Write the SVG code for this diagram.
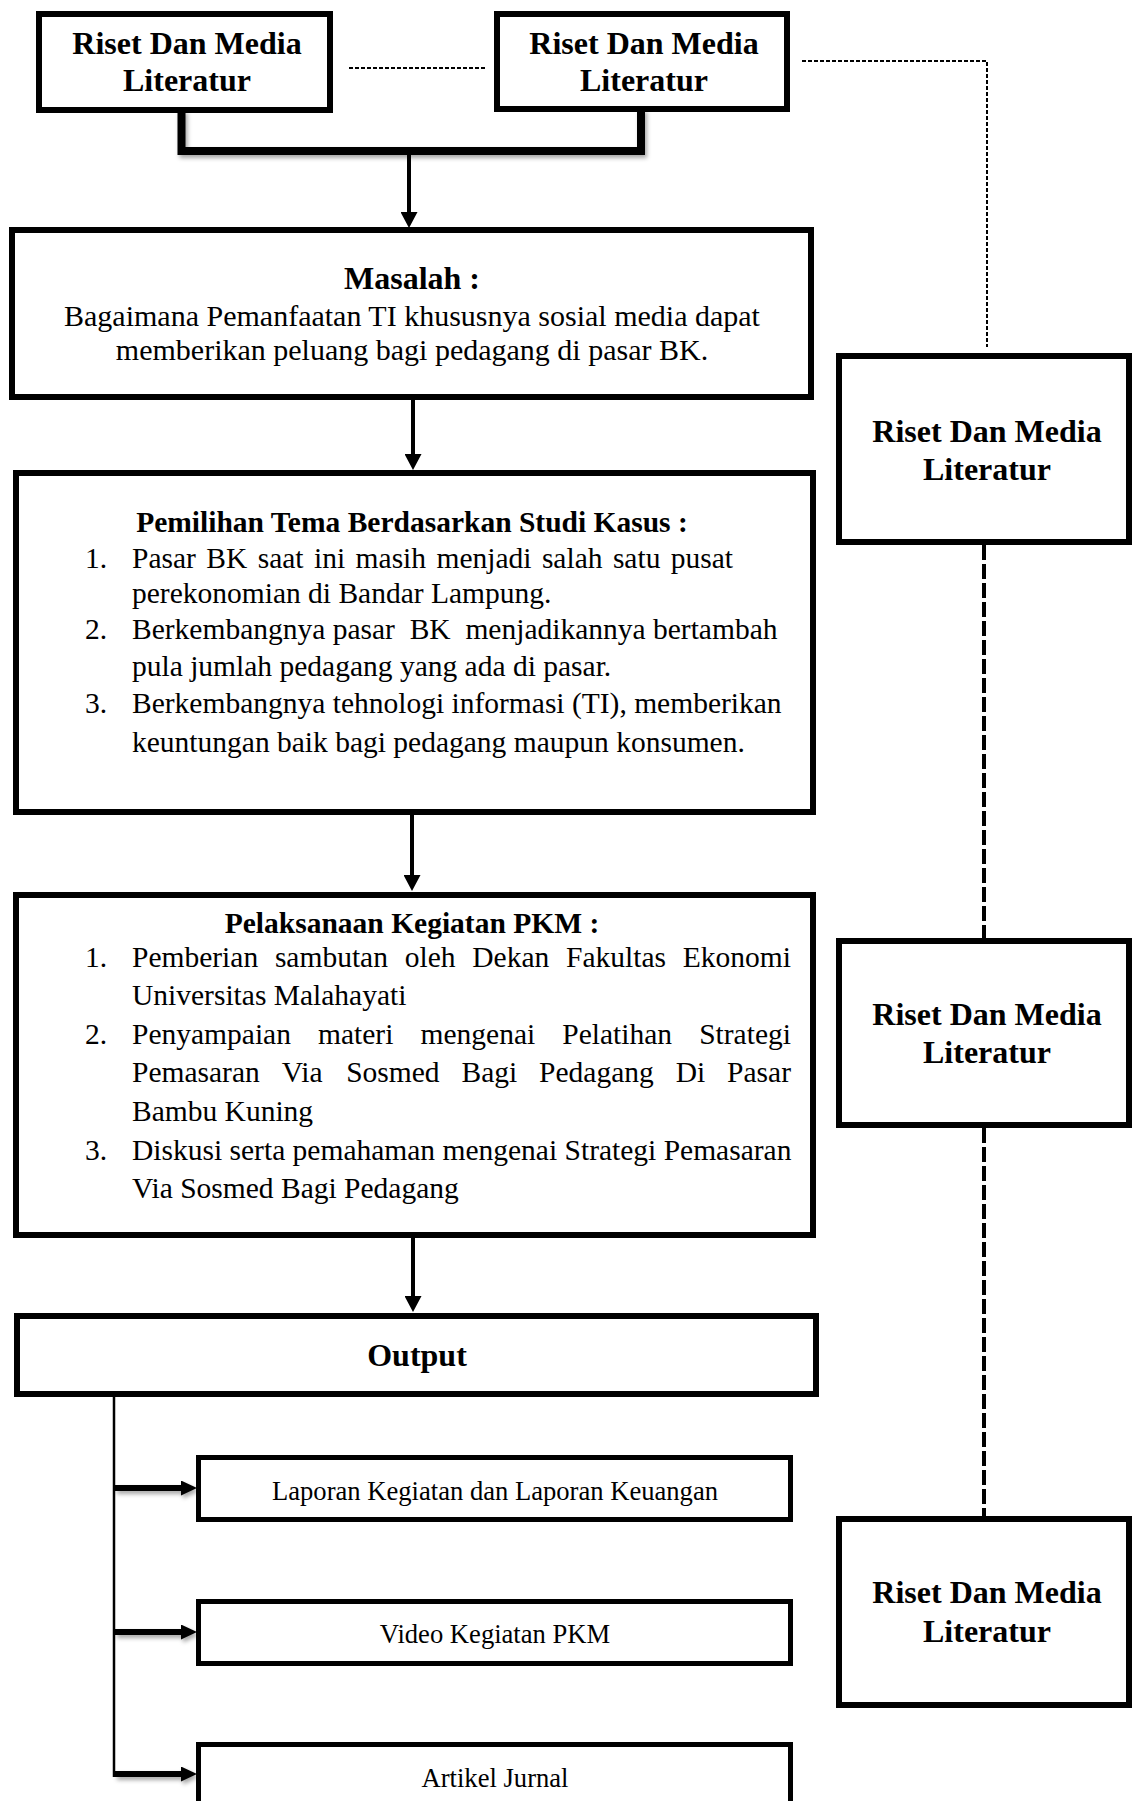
<svg xmlns="http://www.w3.org/2000/svg" width="1132" height="1801" viewBox="0 0 1132 1801">
<style>
  text { font-family: "Liberation Serif", "Times New Roman", serif; fill: #000; }
  .box { fill: #fff; stroke: #000; stroke-width: 6; }
  .sbox { fill: #fff; stroke: #000; stroke-width: 5; }
  .rb { font-size: 32px; font-weight: bold; text-anchor: middle; }
  .tb { font-size: 29.5px; font-weight: bold; text-anchor: middle; }
  .body { font-size: 29.5px; }
  .mb { font-size: 30px; text-anchor: middle; }
  .small { font-size: 26.6px; text-anchor: middle; }
  .arrow { stroke: #000; stroke-width: 4; fill: none; marker-end: url(#ah); }
  .oarrow { stroke: #000; stroke-width: 6; fill: none; marker-end: url(#ah2); filter: url(#sh); }
  .dot { stroke: #000; stroke-width: 2; fill: none; stroke-dasharray: 4 2; }
  .dash { stroke: #000; stroke-width: 4; fill: none; stroke-dasharray: 15 4; }
</style>
<defs>
  <marker id="ah" markerUnits="userSpaceOnUse" markerWidth="16" markerHeight="17" refX="6" refY="8.5" orient="auto">
    <path d="M0,0 L16,8.5 L0,17 Z" fill="#000"/>
  </marker>
  <marker id="ah2" markerUnits="userSpaceOnUse" markerWidth="16" markerHeight="15" refX="5" refY="7.5" orient="auto">
    <path d="M0,0 L16,7.5 L0,15 Z" fill="#000"/>
  </marker>
  <filter id="sh" filterUnits="userSpaceOnUse" x="0" y="0" width="1132" height="1801">
    <feDropShadow dx="2" dy="3" stdDeviation="2" flood-color="#000" flood-opacity="0.35"/>
  </filter>
</defs>
<rect width="1132" height="1801" fill="#fff"/>

<g id="connectors">
  <path d="M181.5,110 V151 H641 V109" stroke="#000" stroke-width="8" fill="none" filter="url(#sh)"/>
  <line class="arrow" x1="409" y1="155" x2="409" y2="218"/>
  <line class="arrow" x1="413" y1="400" x2="413" y2="460"/>
  <line class="arrow" x1="412" y1="815" x2="412" y2="881"/>
  <line class="arrow" x1="413" y1="1238" x2="413" y2="1302"/>
  <line stroke="#000" stroke-width="2.5" x1="114" y1="1397" x2="114" y2="1777"/>
  <line class="oarrow" x1="115" y1="1488" x2="186" y2="1488"/>
  <line class="oarrow" x1="115" y1="1632" x2="186" y2="1632"/>
  <line class="oarrow" x1="115" y1="1774" x2="186" y2="1774"/>
  <line class="dot" x1="349" y1="68" x2="487" y2="68"/>
  <path class="dot" d="M802,61 H987 V347"/>
  <line class="dash" x1="984" y1="545" x2="984" y2="938"/>
  <line class="dash" x1="984" y1="1128" x2="984" y2="1516"/>
</g>

<g id="riset1">
  <rect class="box" x="39" y="14" width="291" height="96"/>
  <text class="rb" x="187" y="54">Riset Dan Media</text>
  <text class="rb" x="187" y="91">Literatur</text>
</g>
<g id="riset2">
  <rect class="box" x="497" y="14" width="290" height="95"/>
  <text class="rb" x="644" y="54">Riset Dan Media</text>
  <text class="rb" x="644" y="91">Literatur</text>
</g>

<g id="masalah">
  <rect class="box" x="12" y="230" width="799" height="167"/>
  <text class="rb" x="412" y="289">Masalah :</text>
  <text class="mb" x="412" y="326">Bagaimana Pemanfaatan TI khususnya sosial media dapat</text>
  <text class="mb" x="412" y="360">memberikan peluang bagi pedagang di pasar BK.</text>
</g>

<g id="pemilihan">
  <rect class="box" x="16" y="473" width="797" height="339"/>
  <text class="tb" x="412" y="532">Pemilihan Tema Berdasarkan Studi Kasus :</text>
  <text class="body" x="85" y="568">1.</text>
  <text class="body" y="568"><tspan x="132">Pasar</tspan><tspan x="206.3">BK</tspan><tspan x="257.7">saat</tspan><tspan x="314">ini</tspan><tspan x="355.6">masih</tspan><tspan x="436.5">menjadi</tspan><tspan x="541.9">salah</tspan><tspan x="612.9">satu</tspan><tspan x="670.8">pusat</tspan></text>
  <text class="body" x="132" y="603">perekonomian di Bandar Lampung.</text>
  <text class="body" x="85" y="639">2.</text>
  <text class="body" x="132" y="639" xml:space="preserve">Berkembangnya pasar  BK  menjadikannya bertambah</text>
  <text class="body" x="132" y="676">pula jumlah pedagang yang ada di pasar.</text>
  <text class="body" x="85" y="713">3.</text>
  <text class="body" x="132" y="713">Berkembangnya tehnologi informasi (TI), memberikan</text>
  <text class="body" x="132" y="752">keuntungan baik bagi pedagang maupun konsumen.</text>
</g>

<g id="pelaksanaan">
  <rect class="box" x="16" y="895" width="797" height="340"/>
  <text class="tb" x="412" y="933">Pelaksanaan Kegiatan PKM :</text>
  <text class="body" x="85" y="967">1.</text>
  <text class="body" y="967"><tspan x="132">Pemberian</tspan><tspan x="274.9">sambutan</tspan><tspan x="404.8">oleh</tspan><tspan x="472.3">Dekan</tspan><tspan x="566.1">Fakultas</tspan><tspan x="682.8">Ekonomi</tspan></text>
  <text class="body" x="132" y="1005">Universitas Malahayati</text>
  <text class="body" x="85" y="1044">2.</text>
  <text class="body" y="1044"><tspan x="132">Penyampaian</tspan><tspan x="318">materi</tspan><tspan x="420.5">mengenai</tspan><tspan x="562.3">Pelatihan</tspan><tspan x="699.2">Strategi</tspan></text>
  <text class="body" y="1082"><tspan x="132">Pemasaran</tspan><tspan x="281.7">Via</tspan><tspan x="346.2">Sosmed</tspan><tspan x="461.5">Bagi</tspan><tspan x="539.1">Pedagang</tspan><tspan x="675.7">Di</tspan><tspan x="727.1">Pasar</tspan></text>
  <text class="body" x="132" y="1121">Bambu Kuning</text>
  <text class="body" x="85" y="1160">3.</text>
  <text class="body" x="132" y="1160">Diskusi serta pemahaman mengenai Strategi Pemasaran</text>
  <text class="body" x="132" y="1198">Via Sosmed Bagi Pedagang</text>
</g>

<g id="output">
  <rect class="box" x="17" y="1316" width="799" height="78"/>
  <text class="rb" x="417" y="1366">Output</text>
</g>

<g id="laporan">
  <rect class="sbox" x="198.5" y="1457.5" width="592" height="62"/>
  <text class="small" x="495" y="1500">Laporan Kegiatan dan Laporan Keuangan</text>
</g>
<g id="video">
  <rect class="sbox" x="198.5" y="1601.5" width="592" height="62"/>
  <text class="small" x="495" y="1643">Video Kegiatan PKM</text>
</g>
<g id="artikel">
  <rect class="sbox" x="198.5" y="1744.5" width="592" height="90"/>
  <text class="small" x="495" y="1787">Artikel Jurnal</text>
</g>

<g id="riset3">
  <rect class="box" x="839" y="356" width="290" height="186"/>
  <text class="rb" x="987" y="442">Riset Dan Media</text>
  <text class="rb" x="987" y="480">Literatur</text>
</g>
<g id="riset4">
  <rect class="box" x="839" y="941" width="290" height="184"/>
  <text class="rb" x="987" y="1025">Riset Dan Media</text>
  <text class="rb" x="987" y="1063">Literatur</text>
</g>
<g id="riset5">
  <rect class="box" x="839" y="1519" width="290" height="186"/>
  <text class="rb" x="987" y="1603">Riset Dan Media</text>
  <text class="rb" x="987" y="1642">Literatur</text>
</g>
</svg>
